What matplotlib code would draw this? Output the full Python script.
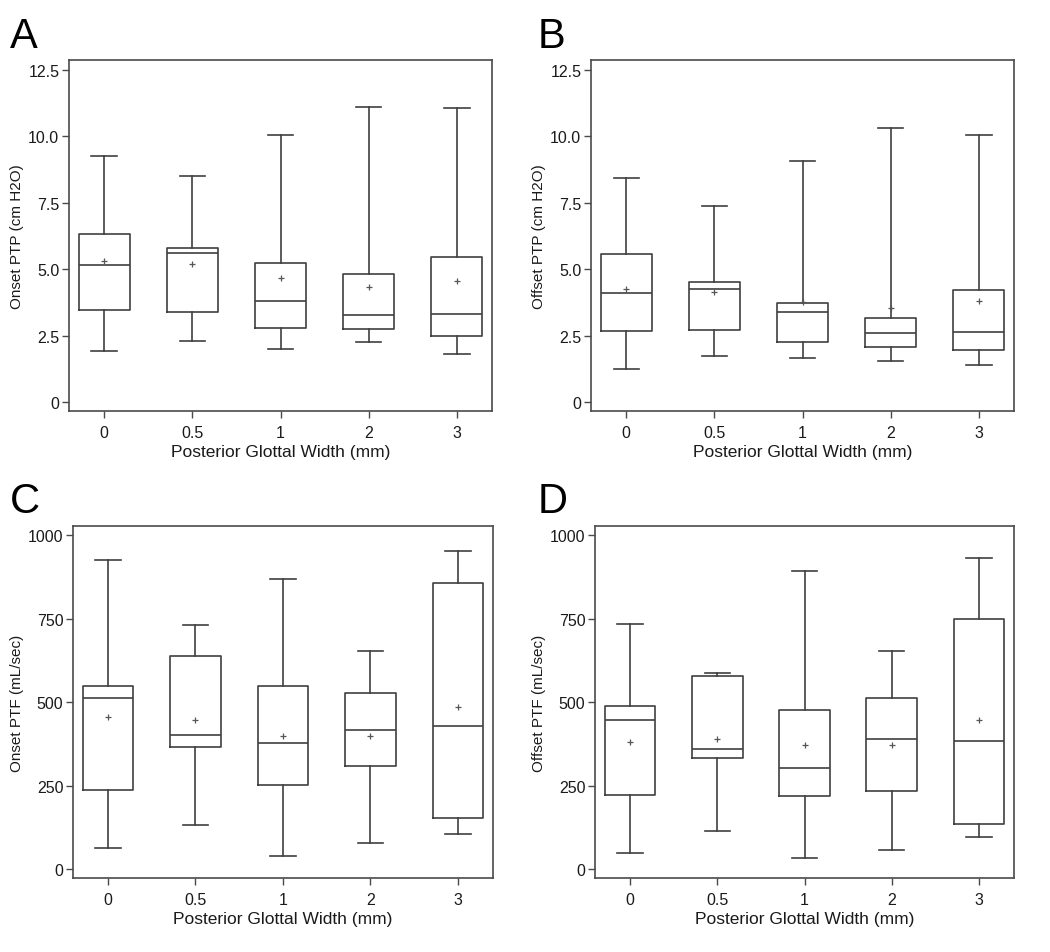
import matplotlib
matplotlib.use("Agg")
import matplotlib.pyplot as plt

plt.rcParams['font.family'] = ['Liberation Sans', 'DejaVu Sans']

categories = ["0", "0.5", "1", "2", "3"]
xlabel = "Posterior Glottal Width (mm)"

# Panel A: Onset PTP
a_whislo = [1.91, 2.31, 2.01, 2.25, 1.82]
a_q1 = [3.46, 3.40, 2.80, 2.75, 2.48]
a_med = [5.17, 5.62, 3.79, 3.29, 3.31]
a_q3 = [6.31, 5.80, 5.22, 4.82, 5.45]
a_whishi = [9.26, 8.50, 10.04, 11.11, 11.07]
a_mean = [5.30, 5.20, 4.66, 4.32, 4.57]

# Panel B: Offset PTP
b_whislo = [1.24, 1.74, 1.67, 1.53, 1.39]
b_q1 = [2.66, 2.72, 2.27, 2.06, 1.97]
b_med = [4.10, 4.24, 3.38, 2.59, 2.62]
b_q3 = [5.57, 4.53, 3.74, 3.16, 4.23]
b_whishi = [8.43, 7.39, 9.07, 10.30, 10.05]
b_mean = [4.27, 4.14, 3.77, 3.53, 3.82]

# Panel C: Onset PTF
c_whislo = [63, 132, 40, 77, 105]
c_q1 = [238, 364, 253, 307, 154]
c_med = [513, 402, 378, 416, 428]
c_q3 = [549, 637, 549, 528, 856]
c_whishi = [926, 732, 869, 652, 952]
c_mean = [454, 445, 399, 398, 486]

# Panel D: Offset PTF
d_whislo = [49, 113, 32, 57, 95]
d_q1 = [221, 332, 219, 233, 134]
d_med = [446, 358, 301, 388, 384]
d_q3 = [488, 579, 476, 511, 749]
d_whishi = [733, 588, 891, 653, 932]
d_mean = [381, 388, 370, 370, 446]

ptp_ticks = [0, 2.5, 5.0, 7.5, 10.0, 12.5]
ptp_ticklabels = ["0", "2.5", "5.0", "7.5", "10.0", "12.5"]
ptf_ticks = [0, 250, 500, 750, 1000]
ptf_ticklabels = ["0", "250", "500", "750", "1000"]

panels = [
    ("A", "Onset PTP (cm H2O)", a_whislo, a_q1, a_med, a_q3, a_whishi, a_mean,
     ptp_ticks, ptp_ticklabels, (-0.34, 12.88), [0.0657, 0.5677, 0.4029, 0.3683], (10, 48)),
    ("B", "Offset PTP (cm H2O)", b_whislo, b_q1, b_med, b_q3, b_whishi, b_mean,
     ptp_ticks, ptp_ticklabels, (-0.34, 12.88), [0.5629, 0.5677, 0.4029, 0.3683], (538, 48)),
    ("C", "Onset PTF (mL/sec)", c_whislo, c_q1, c_med, c_q3, c_whishi, c_mean,
     ptf_ticks, ptf_ticklabels, (-27, 1027), [0.0695, 0.0776, 0.4, 0.3694], (10, 513)),
    ("D", "Offset PTF (mL/sec)", d_whislo, d_q1, d_med, d_q3, d_whishi, d_mean,
     ptf_ticks, ptf_ticklabels, (-27, 1027), [0.5667, 0.0776, 0.399, 0.3694], (538, 513)),
]

W, H = 1050, 953
fig = plt.figure(figsize=(W / 100, H / 100), dpi=100)
fig.patch.set_facecolor("white")

line_col = "#404040"
spine_col = "#4a4a4a"

for letter, ylab, wlo, q1, med, q3, whi, mean, yt, ytl, ylim, pos, lpos in panels:
    ax = fig.add_axes(pos)
    stats = []
    for i, c in enumerate(categories):
        stats.append(dict(label=c, whislo=wlo[i], q1=q1[i], med=med[i], q3=q3[i],
                          whishi=whi[i], mean=mean[i], fliers=[]))
    lp = dict(color=line_col, linewidth=1.2)
    ax.bxp(stats, positions=range(len(categories)), widths=0.58, showmeans=True,
           showfliers=False, boxprops=lp, medianprops=lp, whiskerprops=lp,
           capprops=lp, capwidths=0.29,
           meanprops=dict(marker="+", markeredgecolor="#555555", markersize=5,
                          markeredgewidth=0.9))
    ax.set_xlim(-0.4, 4.4)
    ax.set_ylim(*ylim)
    ax.set_yticks(yt)
    ax.set_yticklabels(ytl)
    ax.set_xticks(range(len(categories)))
    ax.set_xticklabels(categories)
    ax.tick_params(direction="out", length=5, width=1.0, color=spine_col,
                   labelsize=11.5, labelcolor="#1a1a1a")
    ax.tick_params(axis="y", pad=2)
    ax.tick_params(axis="x", pad=5)
    for s in ax.spines.values():
        s.set_color(spine_col)
        s.set_linewidth(1.2)
    ax.set_xlabel(xlabel, fontsize=12.5, color="#1a1a1a", labelpad=3)
    ax.set_ylabel(ylab, fontsize=11, color="#1a1a1a", labelpad=3)
    fig.text(lpos[0] / W, 1 - lpos[1] / H, letter, fontsize=30, color="black",
             ha="left", va="baseline")

fig.savefig("out.png", dpi=100, facecolor="white")
